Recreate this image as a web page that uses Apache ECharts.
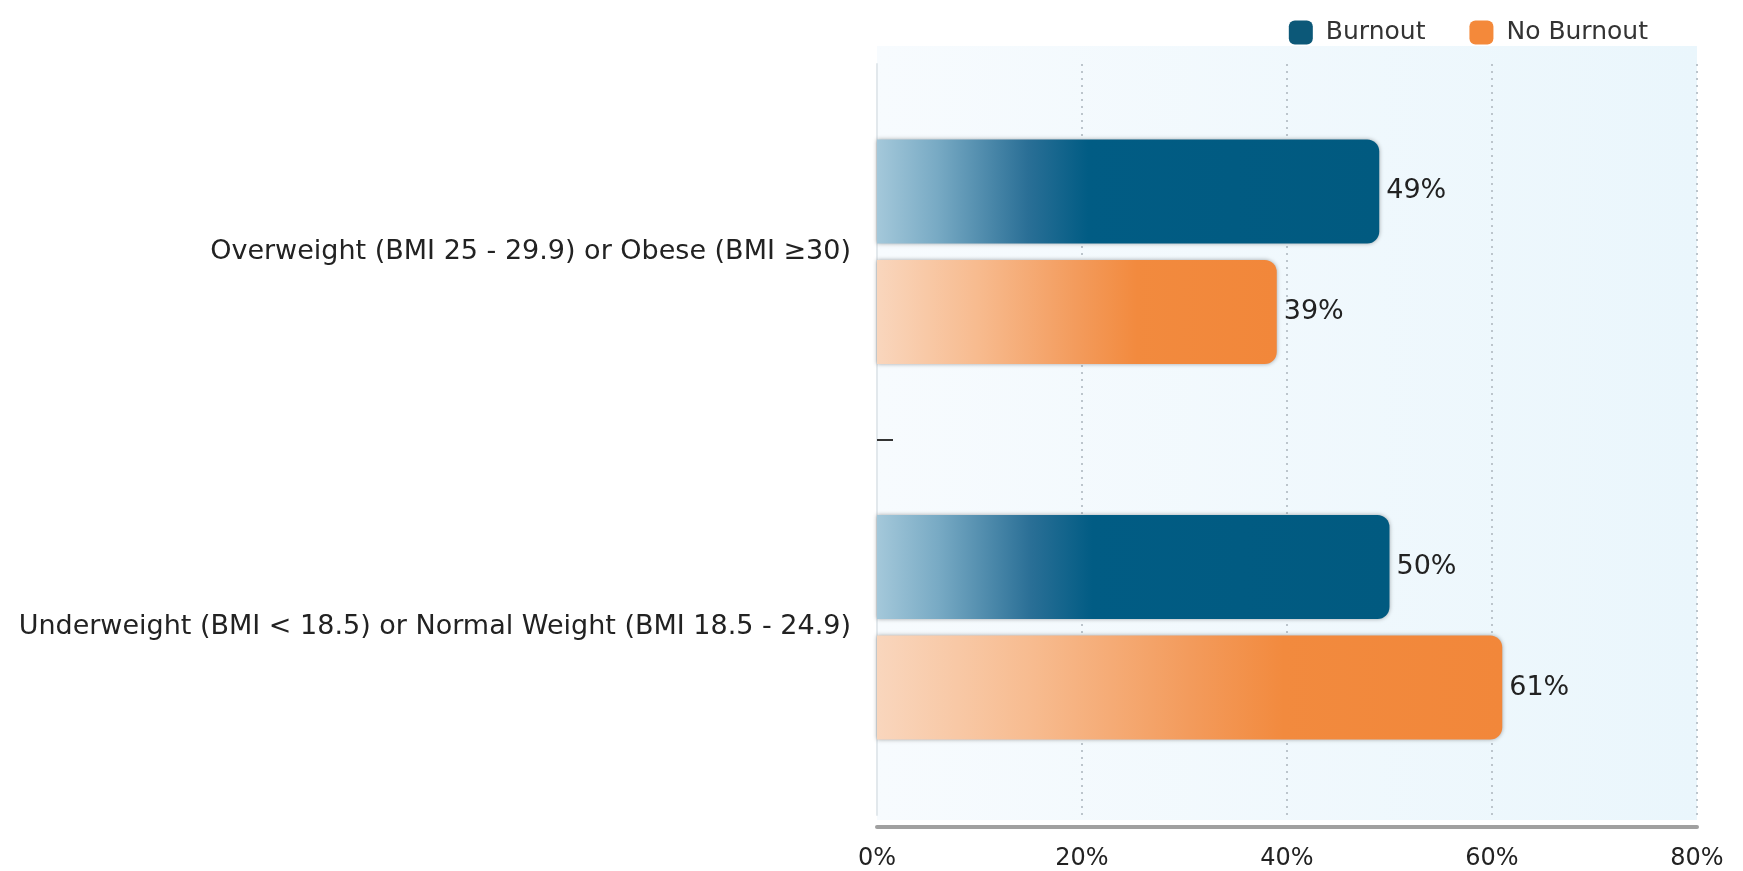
<!DOCTYPE html>
<html>
<head>
<meta charset="utf-8">
<script src="https://cdn.jsdelivr.net/npm/echarts@6/dist/echarts.min.js"></script>
<style>
html,body{margin:0;padding:0;background:#fff;}
#chart{width:1743px;height:871px;}
</style>
</head>
<body>
<div id="chart"></div>
<script>
const categories = [
  'Overweight (BMI 25 - 29.9) or Obese (BMI \u226530)',
  'Underweight (BMI < 18.5) or Normal Weight (BMI 18.5 - 24.9)'
];
const burnout = [49, 50];
const noBurnout = [39, 61];
const xTicks = [0, 20, 40, 60, 80];

const chart = echarts.init(document.getElementById('chart'));
const font = '"DejaVu Sans", Verdana, sans-serif';

function grad(stops) {
  return new echarts.graphic.LinearGradient(0, 0, 1, 0, stops);
}

chart.setOption({
  animation: false,
  textStyle: { fontFamily: font },
  graphic: [{
    type: 'rect', z: -10, silent: true,
    shape: { x: 877, y: 46, width: 820, height: 774 },
    style: { fill: new echarts.graphic.LinearGradient(0, 0, 1, 0, [
      { offset: 0, color: '#f7fbfe' }, { offset: 1, color: '#eaf6fc' }]) }
  }],
  legend: {
    top: 15, right: 90,
    itemWidth: 24, itemHeight: 24, itemGap: 44,
    icon: 'roundRect',
    textStyle: { fontSize: 25, color: '#333', fontFamily: font, padding: [0, 0, 0, 8] },
    data: [
      { name: 'Burnout', itemStyle: { color: '#0c5878' } },
      { name: 'No Burnout', itemStyle: { color: '#f4893a' } }
    ]
  },
  grid: { left: 877, right: 46, top: 64, bottom: 55, containLabel: false },
  xAxis: {
    type: 'value', min: xTicks[0], max: xTicks[xTicks.length - 1], interval: 20,
    offset: 12,
    axisLine: { show: true, onZero: false, lineStyle: { color: '#a0a0a0', width: 4, cap: 'round' } },
    axisTick: { show: false },
    axisLabel: { formatter: '{value}%', fontSize: 24, color: '#222', margin: 20, fontFamily: font },
    splitLine: { show: true, lineStyle: { color: '#bcc5cc', type: [2, 5], width: 2 } }
  },
  yAxis: [
    {
      type: 'category', inverse: true, data: categories,
      axisLine: { show: true, onZero: false, lineStyle: { color: '#e2e8ec', width: 2 } },
      axisTick: { show: false },
      axisLabel: { fontSize: 27, color: '#222', margin: 26, fontFamily: font }
    },
    {
      type: 'value', inverse: true, min: 0, max: categories.length, position: 'left',
      axisLine: { show: false, onZero: false },
      axisLabel: { show: false },
      splitLine: { show: false },
      axisTick: { show: true, inside: true, length: 16, customValues: [1], lineStyle: { color: '#333', width: 2 } }
    }
  ],
  series: [
    {
      name: 'Burnout', type: 'bar', data: burnout,
      barWidth: 104, barGap: '16%',
      itemStyle: {
        color: grad([
          { offset: 0, color: '#a4c8da' },
          { offset: 0.12, color: '#78aac4' },
          { offset: 0.3, color: '#2a6f96' },
          { offset: 0.42, color: '#015c84' },
          { offset: 1, color: '#015a80' }
        ]),
        borderRadius: [0, 12, 12, 0],
        shadowColor: 'rgba(0,0,0,0.35)', shadowBlur: 4, shadowOffsetY: 0
      },
      label: { show: true, position: 'right', distance: 7, formatter: '{c}%', fontSize: 27, color: '#222', fontFamily: font }
    },
    {
      name: 'No Burnout', type: 'bar', data: noBurnout,
      barWidth: 104,
      itemStyle: {
        color: grad([
          { offset: 0, color: '#f9d6bd' },
          { offset: 0.25, color: '#f7bb8f' },
          { offset: 0.5, color: '#f39b5c' },
          { offset: 0.65, color: '#f28a3e' },
          { offset: 1, color: '#f2873a' }
        ]),
        borderRadius: [0, 12, 12, 0],
        shadowColor: 'rgba(0,0,0,0.35)', shadowBlur: 4, shadowOffsetY: 0
      },
      label: { show: true, position: 'right', distance: 7, formatter: '{c}%', fontSize: 27, color: '#222', fontFamily: font }
    }
  ]
});
</script>
</body>
</html>
